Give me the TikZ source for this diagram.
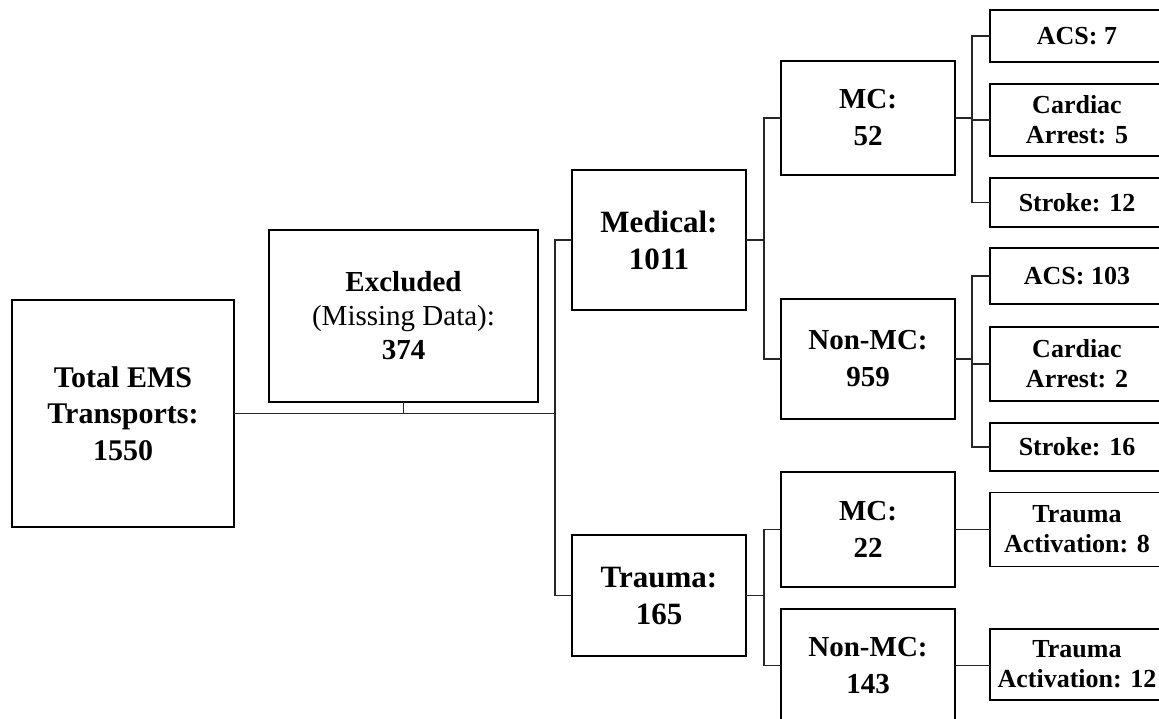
\documentclass[tikz,border=0pt]{standalone}
\usepackage{fontspec}
\setmainfont{Liberation Serif}
\begin{document}
\begin{tikzpicture}[x=1pt,y=-1pt,
  box/.style={draw=black, line width=1.6pt, inner sep=0pt, outer sep=0pt, align=center, font=\bfseries},
  link/.style={draw=black!85, line width=1.4pt},
  big/.style={font=\bfseries\fontsize{31}{37}\selectfont},
  mid/.style={font=\bfseries\fontsize{29}{37}\selectfont},
  small/.style={font=\bfseries\fontsize{26}{30}\selectfont},
  lvl1/.style={box, big, minimum width=174pt},
  lvl2/.style={box, mid, minimum width=174pt},
  lvl3/.style={box, small, minimum width=174pt},
]
\useasboundingbox (0,0) rectangle (1159,719);
\fill[white] (0,0) rectangle (1159,719);

\node[box, minimum width=222pt, minimum height=227pt, font=\bfseries\fontsize{30}{36.7}\selectfont] (total) at (123,413.5) {Total EMS\\Transports:\\1550};
\node[box, minimum width=269pt, minimum height=172pt, font=\fontsize{29}{34}\selectfont] (excl) at (403.5,316) {\textbf{Excluded}\\(Missing Data):\\\textbf{374}};

\node[lvl1, minimum height=140pt] (medical) at (659,240) {Medical:\\1011};
\node[lvl1, minimum height=121pt] (trauma) at (659,595.5) {Trauma:\\165};

\node[lvl2, minimum height=114pt] (mc52) at (868,118) {MC:\\52};
\node[lvl2, minimum height=120pt] (nmc959) at (868,359) {Non-MC:\\959};
\node[lvl2, minimum height=115pt] (mc22) at (868,529.5) {MC:\\22};
\node[lvl2, minimum height=113pt] (nmc143) at (868,665.5) {Non-MC:\\143};

\node[lvl3, minimum height=52pt] (acs7) at (1077,36) {ACS: 7};
\node[lvl3, minimum height=72pt] (ca5) at (1077,120) {Cardiac\\Arrest: 5};
\node[lvl3, minimum height=49pt] (stroke12) at (1077,202.5) {Stroke: 12};
\node[lvl3, minimum height=56pt] (acs103) at (1077,276) {ACS: 103};
\node[lvl3, minimum height=74pt] (ca2) at (1077,364) {Cardiac\\Arrest: 2};
\node[lvl3, minimum height=48pt] (stroke16) at (1077,447) {Stroke: 16};
\node[lvl3, minimum height=74pt] (ta8) at (1077,529.5) {Trauma\\Activation: 8};
\node[lvl3, minimum height=71pt] (ta12) at (1077,664.5) {Trauma\\Activation: 12};

\coordinate (j1) at (555,0);
\coordinate (j2) at (764,0);
\coordinate (j3) at (972,0);

\draw[link] (total.east) -- (total.east -| j1);
\draw[link] (excl.south) -- (excl.south |- total.east);
\draw[link] (medical.west) -- (medical.west -| j1) -- (trauma.west -| j1) -- (trauma.west);

\draw[link] (medical.east) -- (medical.east -| j2);
\draw[link] (mc52.west) -- (mc52.west -| j2) -- (nmc959.west -| j2) -- (nmc959.west);
\draw[link] (trauma.east) -- (trauma.east -| j2);
\draw[link] (mc22.west) -- (mc22.west -| j2) -- (nmc143.west -| j2) -- (nmc143.west);

\draw[link] (mc52.east) -- (mc52.east -| j3);
\draw[link] (acs7.west) -- (acs7.west -| j3) -- (stroke12.west -| j3) -- (stroke12.west);
\draw[link] (ca5.west) -- (ca5.west -| j3);
\draw[link] (nmc959.east) -- (nmc959.east -| j3);
\draw[link] (acs103.west) -- (acs103.west -| j3) -- (stroke16.west -| j3) -- (stroke16.west);
\draw[link] (ca2.west) -- (ca2.west -| j3);
\draw[link] (mc22.east) -- (ta8.west);
\draw[link] (nmc143.east) -- (nmc143.east -| ta12.west);
\end{tikzpicture}
\end{document}
